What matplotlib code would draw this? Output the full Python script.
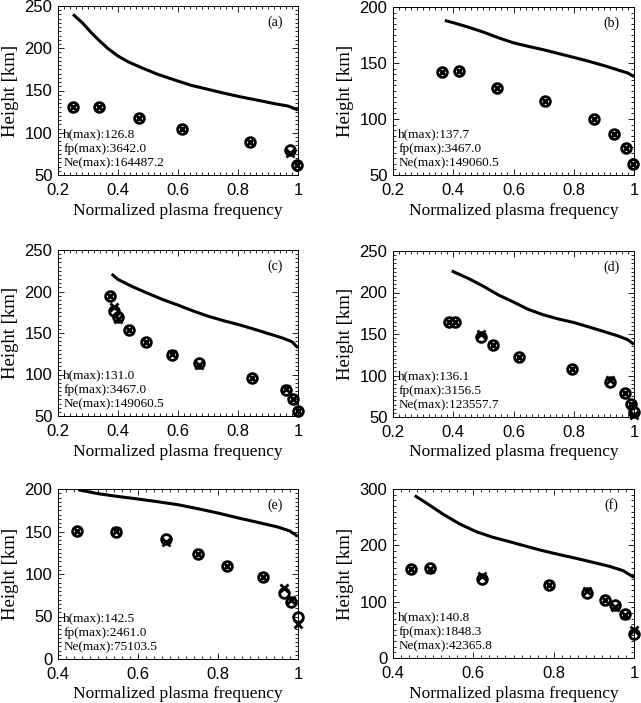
import matplotlib
matplotlib.use("Agg")
import matplotlib.pyplot as plt
from matplotlib.ticker import AutoMinorLocator

# ---- data ----
# (a)
a_fx = [0.249, 0.336, 0.471, 0.612, 0.841, 0.973, 0.998]
a_circ = [130.9, 130.9, 117.0, 104.8, 89.4, 79.6, 62.2]
a_cross = [130.9, 130.9, 117.0, 104.8, 89.4, 76.4, 62.2]
a_lx = [0.25, 0.283, 0.311, 0.339, 0.367, 0.40, 0.433, 0.478, 0.533, 0.589,
        0.644, 0.70, 0.756, 0.811, 0.867, 0.922, 0.967, 1.00]
a_ly = [240.1, 229.5, 218.4, 208.6, 199.5, 190.8, 184.1, 177.0, 169.1, 162.4,
        156.1, 151.4, 146.6, 142.3, 138.4, 134.4, 131.6, 126.9]

# (b)
b_fx = [0.364, 0.419, 0.546, 0.705, 0.866, 0.935, 0.973, 0.997]
b_circ = [141.7, 142.6, 127.7, 115.7, 100.2, 86.5, 74.5, 59.6]
b_cross = [141.7, 142.6, 127.7, 115.7, 100.2, 86.5, 74.5, 59.6]
b_lx = [0.372, 0.40, 0.45, 0.50, 0.55, 0.60, 0.65, 0.70, 0.75, 0.80, 0.85, 0.90, 0.95, 0.98, 1.00]
b_ly = [188.0, 186.0, 182.0, 177.6, 172.5, 168.0, 164.8, 161.8, 158.4, 155.0, 151.5, 147.7, 143.5, 141.0, 137.8]

# (c)
c_fx = [0.373, 0.386, 0.400, 0.437, 0.492, 0.581, 0.670, 0.848, 0.959, 0.983, 1.0]
c_circ = [194.5, 176.4, 169.1, 153.4, 139.3, 123.2, 114.0, 96.3, 81.0, 70.1, 56.0]
c_cross = [194.5, 181.6, 166.7, 153.4, 139.3, 124.9, 111.2, 96.3, 82.4, 70.1, 56.0]
c_lx = [0.379, 0.40, 0.45, 0.50, 0.55, 0.60, 0.65, 0.70, 0.75, 0.80, 0.85, 0.90, 0.95, 0.98, 1.00]
c_ly = [221.0, 214.5, 205.5, 197.7, 190.2, 183.6, 176.6, 170.3, 165.0, 160.3, 155.0, 149.4, 143.8, 139.5, 132.0]

# (d)
d_fx = [0.385, 0.407, 0.491, 0.531, 0.617, 0.794, 0.920, 0.970, 0.991, 1.0]
d_circ = [163.9, 164.7, 145.8, 136.5, 122.4, 108.3, 92.3, 79.4, 66.1, 56.2]
d_cross = [163.9, 164.7, 150.6, 136.5, 122.4, 108.3, 95.1, 79.4, 66.1, 52.0]
d_lx = [0.395, 0.45, 0.50, 0.55, 0.60, 0.65, 0.70, 0.75, 0.80, 0.85, 0.90, 0.95, 0.98, 1.00]
d_ly = [226.0, 217.0, 207.5, 197.0, 188.5, 179.5, 173.0, 168.0, 163.9, 158.5, 153.0, 147.3, 143.0, 137.5]

# (e)
e_fx = [0.447, 0.545, 0.670, 0.751, 0.823, 0.912, 0.964, 0.983, 1.0]
e_circ = [150.1, 148.9, 141.4, 123.4, 110.0, 96.2, 78.2, 67.6, 49.1]
e_cross = [150.9, 150.9, 137.1, 123.4, 110.0, 97.0, 83.3, 69.5, 41.3]
e_lx = [0.45, 0.50, 0.55, 0.60, 0.65, 0.70, 0.75, 0.80, 0.85, 0.90, 0.95, 0.98, 1.00]
e_ly = [199.2, 194.5, 191.2, 188.2, 185.0, 181.5, 176.8, 171.7, 166.0, 160.7, 155.2, 150.5, 144.0]

# (f)
f_fx = [0.446, 0.492, 0.622, 0.7875, 0.882, 0.929, 0.953, 0.977, 1.0]
f_circ = [158.3, 159.4, 140.5, 129.9, 114.5, 102.2, 94.5, 78.5, 43.0]
f_cross = [158.3, 158.3, 144.7, 129.9, 118.1, 103.3, 89.7, 76.8, 50.2]
f_lx = [0.454, 0.483, 0.524, 0.566, 0.607, 0.649, 0.69, 0.732, 0.773, 0.815,
        0.856, 0.898, 0.939, 0.973, 1.00]
f_ly = [288.2, 275.1, 255.6, 237.9, 224.3, 214.2, 206.5, 198.2, 190.5, 183.4,
        176.9, 169.8, 162.7, 155.0, 143.2]

panel_labels = ["(a)", "(b)", "(c)", "(d)", "(e)", "(f)"]
info = [
    ("126.8", "3642.0", "164487.2"),
    ("137.7", "3467.0", "149060.5"),
    ("131.0", "3467.0", "149060.5"),
    ("136.1", "3156.5", "123557.7"),
    ("142.5", "2461.0", "75103.5"),
    ("140.8", "1848.3", "42365.8"),
]
xlims = [(0.2, 1), (0.2, 1), (0.2, 1), (0.2, 1), (0.4, 1), (0.4, 1)]
ylims = [(50, 250), (50, 200), (50, 250), (50, 250), (0, 200), (0, 300)]
ysteps = [50, 50, 50, 50, 50, 100]

panels = [
    (a_fx, a_circ, a_cross, a_lx, a_ly),
    (b_fx, b_circ, b_cross, b_lx, b_ly),
    (c_fx, c_circ, c_cross, c_lx, c_ly),
    (d_fx, d_circ, d_cross, d_lx, d_ly),
    (e_fx, e_circ, e_cross, e_lx, e_ly),
    (f_fx, f_circ, f_cross, f_lx, f_ly),
]

W, H = 641, 703
# axes boxes in pixels: left, right, top, bottom
boxes = [
    (58, 298, 6, 175), (393, 634, 7, 175),
    (58, 298, 250, 416), (393, 634, 251, 417),
    (58, 298, 489, 659), (393, 634, 489, 658),
]

serif = ["Liberation Serif", "DejaVu Serif"]
sans = ["Liberation Sans", "DejaVu Sans"]

fig = plt.figure(figsize=(W / 100, H / 100), dpi=100)

for i, (fx, circ, cross, lx, ly) in enumerate(panels):
    l, r, t, b = boxes[i]
    ax = fig.add_axes([l / W, (H - b) / H, (r - l) / W, (b - t) / H])
    ax.plot(lx, ly, color="black", lw=2.2, solid_capstyle="butt")
    ax.plot(fx, circ, "o", ms=7, mfc="none", mec="black", mew=2.0, clip_on=False)
    ax.plot(fx, cross, "x", ms=5.5, mec="black", mew=2.0, clip_on=False)

    ax.set_xlim(*xlims[i])
    ax.set_ylim(*ylims[i])
    x0, x1 = xlims[i]
    ax.set_xticks([round(x0 + 0.2 * k, 1) for k in range(int(round((x1 - x0) / 0.2)) + 1)])
    y0, y1 = ylims[i]
    ax.set_yticks(list(range(y0, y1 + 1, ysteps[i])))
    ax.xaxis.set_major_formatter(plt.FuncFormatter(lambda v, p: "%g" % v))
    ax.xaxis.set_minor_locator(AutoMinorLocator(10))
    ax.yaxis.set_minor_locator(AutoMinorLocator(10))
    ax.tick_params(which="both", direction="in", top=True, right=True, width=0.6)
    ax.tick_params(which="major", length=4, labelsize=12)
    ax.tick_params(axis="x", which="major", pad=6)
    ax.tick_params(axis="y", which="major", pad=4)
    ax.tick_params(which="minor", length=2)
    for lab in ax.get_xticklabels() + ax.get_yticklabels():
        lab.set_family(sans)
    for s in ax.spines.values():
        s.set_linewidth(0.7)

    ax.set_xlabel("Normalized plasma frequency", family=serif, fontsize=12.5, labelpad=3)
    ax.set_ylabel("Height [km]", family=serif, fontsize=13.5, labelpad=4)

    h, fp, ne = info[i]
    ax.text(0.022, 0.035, "h(max):%s\nfp(max):%s\nNe(max):%s" % (h, fp, ne),
            transform=ax.transAxes, family=serif, fontsize=9.5,
            ha="left", va="bottom", linespacing=1.25)
    ax.text(0.905, 0.905, panel_labels[i], transform=ax.transAxes, family=serif,
            fontsize=10, ha="center", va="center")

fig.savefig("out.png", dpi=100)
